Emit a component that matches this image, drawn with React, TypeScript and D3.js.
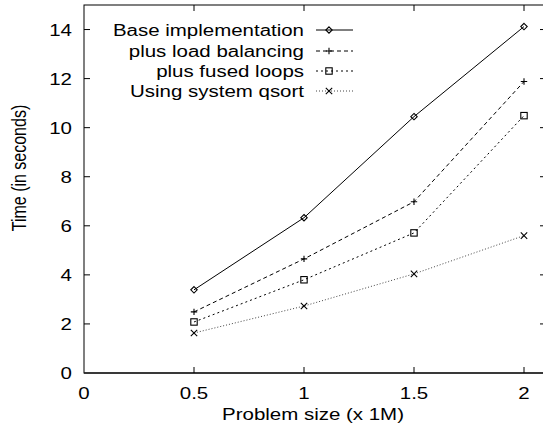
import * as d3 from 'd3';

const sizes = [0.5, 1, 1.5, 2];
const baseImpl = [3.39, 6.33, 10.45, 14.12];
const loadBalancing = [2.49, 4.65, 6.98, 11.88];
const fusedLoops = [2.08, 3.8, 5.71, 10.49];
const systemQsort = [1.63, 2.73, 4.04, 5.6];

const seriesNames = ['Base implementation', 'plus load balancing', 'plus fused loops', 'Using system qsort'];
const xTicks = [0, 0.5, 1, 1.5, 2];
const yTicks = [0, 2, 4, 6, 8, 10, 12, 14];

const W = 543;
const H = 428;
const FONT = 'Liberation Sans, Arial, Helvetica, sans-serif';
const FS = 16;
const SX = 1.28; // reference text is stretched horizontally

type MarkerKind = 'diamond' | 'plus' | 'square' | 'cross';

const series: { name: string; values: number[]; dash: string; stroke: string; marker: MarkerKind }[] = [
  { name: seriesNames[0], values: baseImpl, dash: '', stroke: '#000', marker: 'diamond' },
  { name: seriesNames[1], values: loadBalancing, dash: '4,3', stroke: '#000', marker: 'plus' },
  { name: seriesNames[2], values: fusedLoops, dash: '2,3', stroke: '#000', marker: 'square' },
  { name: seriesNames[3], values: systemQsort, dash: '1,2', stroke: '#444', marker: 'cross' },
];

function Marker({ kind, x, y }: { kind: MarkerKind; x: number; y: number }) {
  const s = 3.2;
  const common = { fill: 'none', stroke: '#000', strokeWidth: 1.1 };
  if (kind === 'diamond')
    return <path d={`M${x},${y - s}L${x + s},${y}L${x},${y + s}L${x - s},${y}Z`} {...common} />;
  if (kind === 'plus')
    return <path d={`M${x - s},${y}H${x + s}M${x},${y - s}V${y + s}`} {...common} />;
  if (kind === 'square')
    return <rect x={x - s} y={y - s} width={2 * s} height={2 * s} {...common} />;
  return <path d={`M${x - s},${y - s}L${x + s},${y + s}M${x - s},${y + s}L${x + s},${y - s}`} {...common} />;
}

function HText({ x, y, anchor, children }: { x: number; y: number; anchor: string; children: string }) {
  return (
    <text
      transform={`translate(${x},${y}) scale(${SX},1)`}
      textAnchor={anchor}
      fontFamily={FONT}
      fontSize={FS}
      fill="#000"
    >
      {children}
    </text>
  );
}

export default function App() {
  const margin = { left: 84, top: 5, right: 546, bottom: 373 };
  const x = d3.scaleLinear().domain([0, 2.1]).range([margin.left, margin.right]);
  const y = d3.scaleLinear().domain([0, 15]).range([margin.bottom, margin.top]);

  const line = d3
    .line<number>()
    .x((_, i) => x(sizes[i]))
    .y((d) => y(d));

  const tick = 6;
  const legendY = [30, 51, 71, 91];

  return (
    <svg
      width={W}
      height={H}
      style={{ position: 'absolute', left: 0, top: 0, background: '#fff' }}
    >
      {/* border */}
      <rect
        x={margin.left}
        y={margin.top}
        width={margin.right - margin.left}
        height={margin.bottom - margin.top}
        fill="none"
        stroke="#000"
        strokeWidth={1}
      />
      <line x1={margin.left} x2={margin.right} y1={margin.bottom} y2={margin.bottom} stroke="#222" strokeWidth={1.6} />

      {/* y ticks */}
      {yTicks.map((t) => (
        <g key={'y' + t}>
          {t > 0 && <line x1={margin.left} x2={margin.left + tick} y1={y(t)} y2={y(t)} stroke="#000" />}
          {t > 0 && <line x1={margin.right} x2={margin.right - tick} y1={y(t)} y2={y(t)} stroke="#000" />}
          <HText x={72} y={y(t) + 6} anchor="end">{String(t)}</HText>
        </g>
      ))}

      {/* x ticks */}
      {xTicks.map((t) => (
        <g key={'x' + t}>
          {t > 0 && <line x1={x(t)} x2={x(t)} y1={margin.bottom} y2={margin.bottom - tick} stroke="#000" />}
          {t > 0 && <line x1={x(t)} x2={x(t)} y1={margin.top} y2={margin.top + tick} stroke="#000" />}
          <HText x={x(t)} y={399} anchor="middle">{String(t)}</HText>
        </g>
      ))}

      {/* axis titles */}
      <HText x={313} y={420} anchor="middle">Problem size (x 1M)</HText>
      <text
        transform={`translate(26,168) scale(${SX},1) rotate(-90)`}
        textAnchor="middle"
        fontFamily={FONT}
        fontSize={FS}
        fill="#000"
      >
        Time (in seconds)
      </text>

      {/* series */}
      {series.map((s) => (
        <g key={s.name}>
          <path d={line(s.values) || ''} fill="none" stroke={s.stroke} strokeWidth={1} strokeDasharray={s.dash} />
          {s.values.map((v, i) => (
            <Marker key={i} kind={s.marker} x={x(sizes[i])} y={y(v)} />
          ))}
        </g>
      ))}

      {/* legend */}
      {series.map((s, i) => (
        <g key={'lg' + s.name}>
          <HText x={304} y={legendY[i] + 6} anchor="end">{s.name}</HText>
          <line x1={316} x2={353} y1={legendY[i]} y2={legendY[i]} stroke={s.stroke} strokeWidth={1} strokeDasharray={s.dash} />
          <Marker kind={s.marker} x={329} y={legendY[i]} />
        </g>
      ))}
    </svg>
  );
}
